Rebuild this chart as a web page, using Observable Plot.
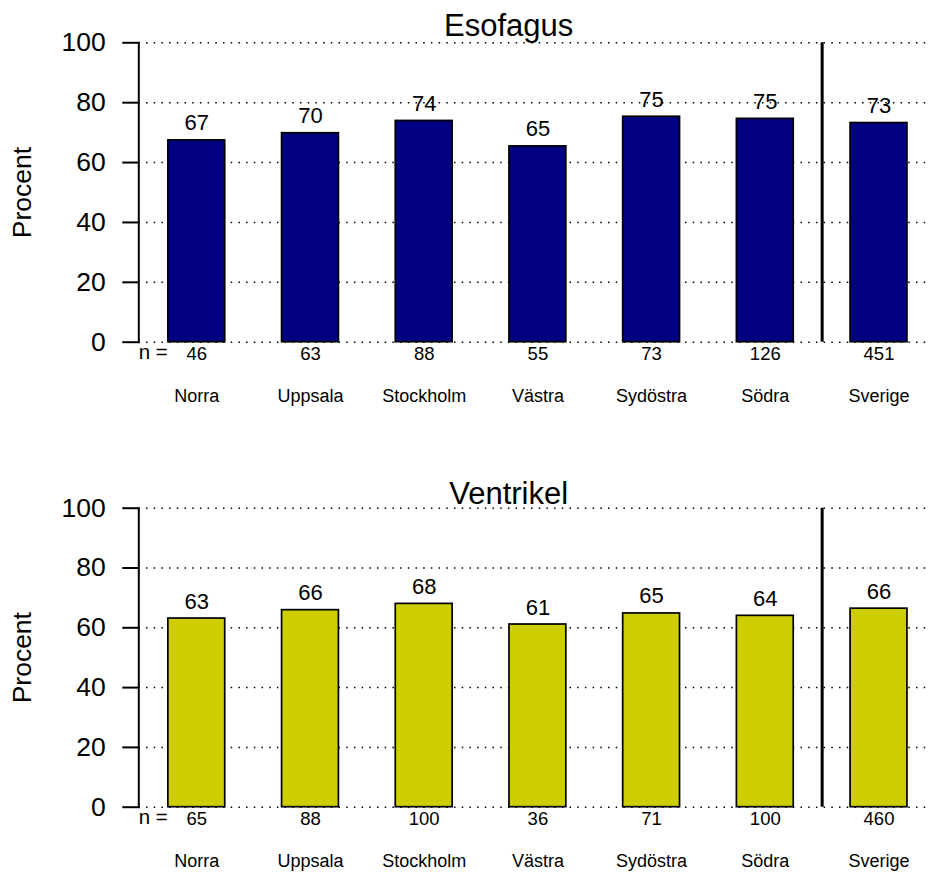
<!DOCTYPE html>
<html>
<head>
<meta charset="utf-8">
<script src="https://cdn.jsdelivr.net/npm/d3@7"></script>
<script src="https://cdn.jsdelivr.net/npm/@observablehq/plot@0.6"></script>
<style>
  body { margin: 0; background: #fff; }
  #chart { width: 930px; }
  #chart svg { display: block; overflow: visible; }
</style>
</head>
<body>
<div id="chart"></div>
<script>
// Regions (the national total last)
const regions = ["Norra", "Uppsala", "Stockholm", "Västra", "Sydöstra", "Södra", "Sverige"];

// Esofagus: percentage per region and number of patients
const esofagusPct = [67.4, 69.8, 73.9, 65.4, 75.3, 74.6, 73.2];
const esofagusN = [46, 63, 88, 55, 73, 126, 451];

// Ventrikel: percentage per region and number of patients
const ventrikelPct = [63.1, 65.9, 68.0, 61.1, 64.8, 64.0, 66.4];
const ventrikelN = [65, 88, 100, 36, 71, 100, 460];

const yTicks = [0, 20, 40, 60, 80, 100];
const titles = ["Esofagus", "Ventrikel"];
const pctSeries = [esofagusPct, ventrikelPct];
const nSeries = [esofagusN, ventrikelN];
const fills = ["#000080", "#CDCD00"];

// Layout of the two stacked panels
const layouts = [
  {height: 465, marginTop: 42.3, marginBottom: 123.3, titleDy: -7},
  {height: 407, marginTop: 42.7, marginBottom: 65.3, titleDy: -4.5}
];

const font = "'Liberation Sans', Arial, Helvetica, sans-serif";
const xRange = [138.3, 936.5];
const xPadInner = 0.5, xPadOuter = 0.26;
const step = d3.scaleBand().domain(regions).range(xRange)
  .paddingInner(xPadInner).paddingOuter(xPadOuter).step();

const chart = document.getElementById("chart");

titles.forEach((title, k) => {
  const data = regions.map((region, i) => ({region, pct: pctSeries[k][i], n: nSeries[k][i]}));
  const L = layouts[k];
  const plot = Plot.plot({
    width: 930,
    height: L.height,
    marginLeft: 138.3,
    marginRight: 0,
    marginTop: L.marginTop,
    marginBottom: L.marginBottom,
    style: {fontFamily: font, fontSize: "26.5px", color: "black", background: "white", overflow: "visible"},
    x: {type: "band", domain: regions, range: xRange, paddingInner: xPadInner, paddingOuter: xPadOuter, round: false, axis: null},
    y: {domain: [0, 100]},
    marks: [
      // dotted grid
      Plot.ruleY(yTicks, {stroke: "black", strokeWidth: 1.5, strokeDasharray: "1.5,6.2"}),
      // y axis
      Plot.axisY({ticks: yTicks, tickSize: 16, tickPadding: 17, tickFormat: d => String(d), strokeWidth: 2, label: null}),
      Plot.frame({anchor: "left", strokeWidth: 2}),
      Plot.text(["Procent"], {frameAnchor: "left", textAnchor: "middle", lineAnchor: "middle", rotate: -90, dx: -116, fontSize: 26.5}),
      // bars
      Plot.barY(data, {x: "region", y: "pct", fill: fills[k], stroke: "black", strokeWidth: 1.7}),
      // separator before the national total
      Plot.ruleX(["Södra"], {x: d => d, y1: 0, y2: 100, dx: step / 2, stroke: "black", strokeWidth: 3}),
      // value labels
      Plot.text(data, {x: "region", y: "pct", text: d => String(Math.round(d.pct)), lineAnchor: "bottom", dy: -10, fontSize: 22}),
      // number of patients
      Plot.text(["n ="], {frameAnchor: "bottom-left", textAnchor: "end", lineAnchor: "bottom", dx: 29, dy: 17, fontSize: 20.5}),
      Plot.text(data, {x: "region", text: d => String(d.n), frameAnchor: "bottom", lineAnchor: "bottom", dy: 17.5, fontSize: 18.5}),
      // region names
      Plot.text(data, {x: "region", text: "region", frameAnchor: "bottom", lineAnchor: "bottom", dy: 60, fontSize: 18}),
      // panel title
      Plot.text([title], {frameAnchor: "top", lineAnchor: "bottom", dx: -26, dy: L.titleDy, fontSize: 31})
    ]
  });
  chart.appendChild(plot);
});
</script>
</body>
</html>
